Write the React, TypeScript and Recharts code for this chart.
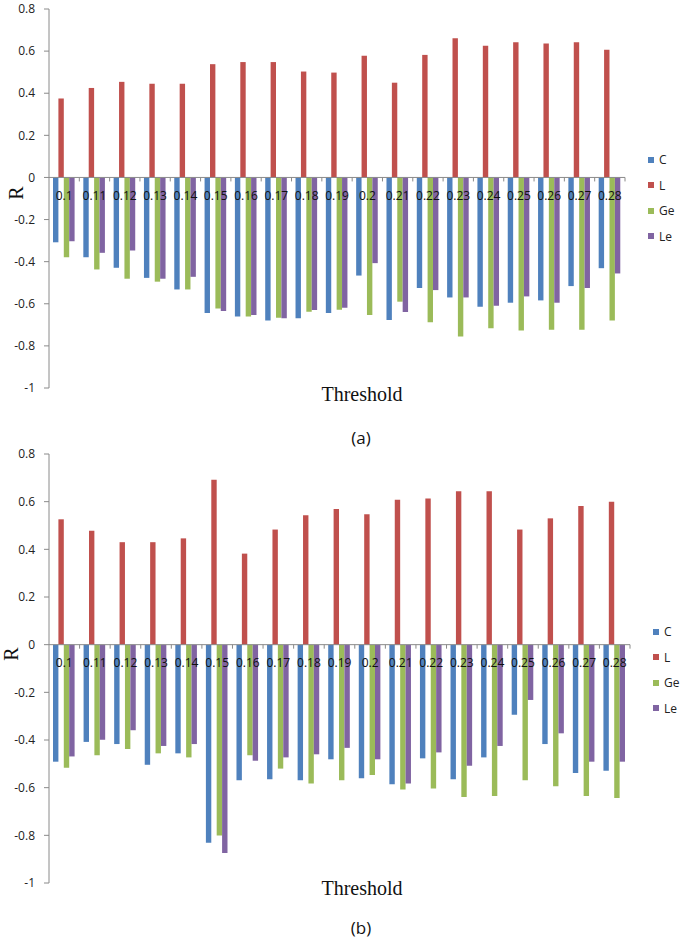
import React from "react";
import {
  BarChart,
  Bar,
  XAxis,
  YAxis,
  ReferenceLine,
  Legend,
} from "recharts";

const thresholds = [
  "0.1", "0.11", "0.12", "0.13", "0.14", "0.15", "0.16", "0.17", "0.18", "0.19",
  "0.2", "0.21", "0.22", "0.23", "0.24", "0.25", "0.26", "0.27", "0.28",
];
const yTicks = [-1, -0.8, -0.6, -0.4, -0.2, 0, 0.2, 0.4, 0.6, 0.8];
const seriesKeys = ["C", "L", "Ge", "Le"];

// (a)
const cA = [-0.308, -0.379, -0.429, -0.477, -0.532, -0.644, -0.66, -0.679, -0.669, -0.644, -0.466, -0.677, -0.525, -0.57, -0.614, -0.595, -0.584, -0.516, -0.431];
const lA = [0.375, 0.425, 0.454, 0.445, 0.445, 0.538, 0.548, 0.548, 0.503, 0.498, 0.578, 0.45, 0.582, 0.661, 0.626, 0.642, 0.636, 0.642, 0.607];
const geA = [-0.379, -0.437, -0.481, -0.495, -0.532, -0.623, -0.66, -0.666, -0.638, -0.628, -0.653, -0.59, -0.688, -0.756, -0.716, -0.727, -0.723, -0.723, -0.679];
const leA = [-0.303, -0.358, -0.347, -0.481, -0.472, -0.634, -0.653, -0.669, -0.63, -0.619, -0.407, -0.639, -0.535, -0.57, -0.609, -0.565, -0.595, -0.525, -0.456];

// (b)
const cB = [-0.491, -0.408, -0.417, -0.504, -0.456, -0.831, -0.569, -0.565, -0.569, -0.481, -0.561, -0.586, -0.477, -0.565, -0.473, -0.294, -0.417, -0.538, -0.529];
const lB = [0.526, 0.478, 0.43, 0.43, 0.446, 0.692, 0.382, 0.483, 0.543, 0.569, 0.547, 0.608, 0.613, 0.644, 0.644, 0.483, 0.53, 0.582, 0.6];
const geB = [-0.516, -0.464, -0.438, -0.456, -0.473, -0.801, -0.464, -0.52, -0.582, -0.569, -0.547, -0.608, -0.604, -0.639, -0.635, -0.569, -0.594, -0.635, -0.643];
const leB = [-0.469, -0.399, -0.359, -0.425, -0.417, -0.874, -0.487, -0.473, -0.46, -0.433, -0.481, -0.582, -0.452, -0.508, -0.425, -0.232, -0.372, -0.491, -0.491];

const colors: Record<string, string> = { C: "#4F81BD", L: "#C0504D", Ge: "#9BBB59", Le: "#8064A2" };
const sans = "'Open Sans', 'DejaVu Sans', sans-serif";
const serif = "'Liberation Serif', 'Times New Roman', serif";

function makeRows(c: number[], l: number[], ge: number[], le: number[]) {
  return thresholds.map((t, i) => ({ t, C: c[i], L: l[i], Ge: ge[i], Le: le[i] }));
}

// zero line drawn like Excel's category axis: minor ticks + labels sitting on it
function ZeroAxis(props: any) {
  const { x1, y1, x2 } = props;
  const n = thresholds.length;
  const w = (x2 - x1) / n;
  return (
    <g>
      <line x1={x1} y1={y1} x2={x2} y2={y1} stroke="#8a8a8a" strokeWidth={1} />
      {thresholds.map((_, i) => (
        <line key={"m" + i} x1={x1 + (i + 1) * w} y1={y1} x2={x1 + (i + 1) * w} y2={y1 + 4} stroke="#8a8a8a" />
      ))}
      {thresholds.map((t, i) => (
        <text
          key={t}
          x={x1 + (i + 0.5) * w}
          y={y1 + 19}
          textAnchor="middle"
          dominantBaseline="middle"
          fontFamily={sans}
          fontSize={12}
          fill="#111"
        >
          {t}
        </text>
      ))}
    </g>
  );
}

const renderLegend = (props: any) => {
  const items = [...(props.payload || [])].sort(
    (a: any, b: any) => seriesKeys.indexOf(a.value) - seriesKeys.indexOf(b.value)
  );
  return (
    <div style={{ fontFamily: sans, fontSize: 12, color: "#222" }}>
      {items.map((p: any) => (
        <div key={p.value} style={{ display: "flex", alignItems: "center", height: 25.5 }}>
          <span style={{ width: 6, height: 6, background: p.color, marginRight: 5 }} />
          <span>{p.value}</span>
        </div>
      ))}
    </div>
  );
};

type PanelProps = {
  rows: any[];
  top: number;
  height: number;
  margin: { top: number; right: number; bottom: number; left: number };
  legendPos: { left: number; top: number };
};

function Panel({ rows, top, height, margin, legendPos }: PanelProps) {
  return (
    <div style={{ position: "absolute", left: 0, top }}>
      <BarChart width={681} height={height} data={rows} margin={margin} barGap={0} barSize={5.4}>
        <XAxis dataKey="t" hide />
        <YAxis
          width={49}
          domain={[-1, 0.8]}
          ticks={yTicks}
          interval={0}
          allowDataOverflow
          axisLine={{ stroke: "#8a8a8a" }}
          tickLine={{ stroke: "#8a8a8a" }}
          tickSize={5}
          tickMargin={9}
          tick={{ fontFamily: sans, fontSize: 12, fill: "#222" }}
        />
        {seriesKeys.map((k) => (
          <Bar key={k} dataKey={k} fill={colors[k]} isAnimationActive={false} />
        ))}
        <ReferenceLine y={0} shape={ZeroAxis} />
        <Legend
          layout="vertical"
          align="center"
          verticalAlign="middle"
          content={renderLegend}
          wrapperStyle={{ left: legendPos.left, top: legendPos.top, width: 40 }}
        />
      </BarChart>
    </div>
  );
}

function Label({ x, y, text, font, size, rotate }: { x: number; y: number; text: string; font: string; size: number; rotate?: boolean }) {
  return (
    <div
      style={{
        position: "absolute",
        left: x,
        top: y,
        transform: `translate(-50%, -50%)${rotate ? " rotate(-90deg)" : ""}`,
        fontFamily: font,
        fontSize: size,
        color: "#111",
        whiteSpace: "nowrap",
        lineHeight: 1,
      }}
    >
      {text}
    </div>
  );
}

export default function App() {
  return (
    <div style={{ position: "absolute", left: 0, top: 0, width: 681, height: 939, background: "#fff" }}>
      <Panel
        rows={makeRows(cA, lA, geA, leA)}
        top={0}
        height={400}
        margin={{ top: 9, right: 56, bottom: 12, left: 0 }}
        legendPos={{ left: 648, top: 147 }}
      />
      <Label x={16} y={193} text="R" font={serif} size={20} rotate />
      <Label x={362} y={394} text="Threshold" font={serif} size={20} />
      <Label x={361} y={437} text="(a)" font={sans} size={17} />

      <Panel
        rows={makeRows(cB, lB, geB, leB)}
        top={440}
        height={450}
        margin={{ top: 14, right: 51, bottom: 7, left: 0 }}
        legendPos={{ left: 653, top: 179 }}
      />
      <Label x={11} y={654} text="R" font={serif} size={20} rotate />
      <Label x={362} y={888} text="Threshold" font={serif} size={20} />
      <Label x={361} y={927} text="(b)" font={sans} size={17} />
    </div>
  );
}
